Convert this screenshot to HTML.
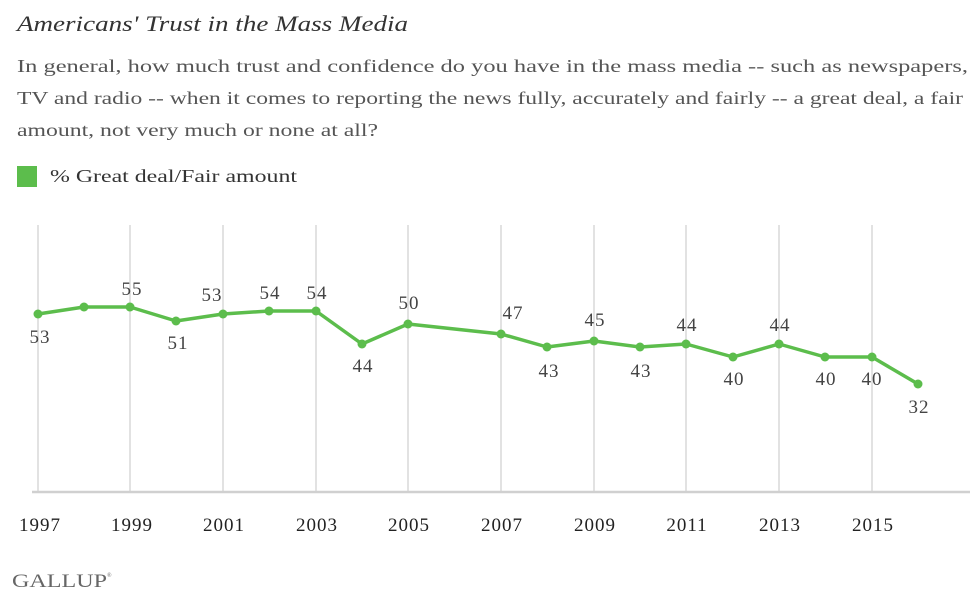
<!DOCTYPE html>
<html><head><meta charset="utf-8"><style>
body{margin:0;background:#fff;width:980px;height:598px;overflow:hidden;font-family:"Liberation Serif",serif;}
</style></head><body>
<svg width="980" height="598" xmlns="http://www.w3.org/2000/svg" font-family="Liberation Serif, serif">
<text x="17" y="31" font-size="22" font-style="italic" fill="#333" textLength="391" lengthAdjust="spacingAndGlyphs">Americans' Trust in the Mass Media</text>
<g font-size="18" fill="#555">
<text x="17" y="72" textLength="951" lengthAdjust="spacingAndGlyphs">In general, how much trust and confidence do you have in the mass media -- such as newspapers,</text>
<text x="17" y="104" textLength="946" lengthAdjust="spacingAndGlyphs">TV and radio -- when it comes to reporting the news fully, accurately and fairly -- a great deal, a fair</text>
<text x="17" y="136" textLength="361" lengthAdjust="spacingAndGlyphs">amount, not very much or none at all?</text>
</g>
<rect x="17" y="166" width="20" height="21" fill="#5cbd4c"/>
<text x="50" y="182" font-size="18" fill="#333" textLength="247" lengthAdjust="spacingAndGlyphs">% Great deal/Fair amount</text>
<g stroke="#d8d8d8" stroke-width="1.5">
<line x1="38" y1="225" x2="38" y2="492"/><line x1="130" y1="225" x2="130" y2="492"/><line x1="223" y1="225" x2="223" y2="492"/><line x1="316" y1="225" x2="316" y2="492"/><line x1="408" y1="225" x2="408" y2="492"/><line x1="501" y1="225" x2="501" y2="492"/><line x1="594" y1="225" x2="594" y2="492"/><line x1="686" y1="225" x2="686" y2="492"/><line x1="779" y1="225" x2="779" y2="492"/><line x1="872" y1="225" x2="872" y2="492"/>
</g>
<line x1="32" y1="492" x2="970" y2="492" stroke="#d0d0d0" stroke-width="2.5"/>
<polyline fill="none" stroke="#5cbd4c" stroke-width="3.5" stroke-linejoin="round" points="38,314 84,307 130,307 176,321 223,314 269,311 316,311 362,344 408,324 501,334 547,347 594,341 640,347 686,344 733,357 779,344 825,357 872,357 918,384"/>
<g fill="#5cbd4c">
<circle cx="38" cy="314" r="4.5"/><circle cx="84" cy="307" r="4.5"/><circle cx="130" cy="307" r="4.5"/><circle cx="176" cy="321" r="4.5"/><circle cx="223" cy="314" r="4.5"/><circle cx="269" cy="311" r="4.5"/><circle cx="316" cy="311" r="4.5"/><circle cx="362" cy="344" r="4.5"/><circle cx="408" cy="324" r="4.5"/><circle cx="501" cy="334" r="4.5"/><circle cx="547" cy="347" r="4.5"/><circle cx="594" cy="341" r="4.5"/><circle cx="640" cy="347" r="4.5"/><circle cx="686" cy="344" r="4.5"/><circle cx="733" cy="357" r="4.5"/><circle cx="779" cy="344" r="4.5"/><circle cx="825" cy="357" r="4.5"/><circle cx="872" cy="357" r="4.5"/><circle cx="918" cy="384" r="4.5"/>
</g>
<g font-size="19" fill="#444" text-anchor="middle" letter-spacing="1">
<text x="40" y="343">53</text><text x="132" y="295">55</text><text x="178" y="349">51</text><text x="212" y="301">53</text><text x="270" y="299">54</text><text x="317" y="299">54</text><text x="363" y="372">44</text><text x="409" y="309">50</text><text x="513" y="319">47</text><text x="549" y="377">43</text><text x="595" y="326">45</text><text x="641" y="377">43</text><text x="687" y="331">44</text><text x="734" y="385">40</text><text x="780" y="331">44</text><text x="826" y="385">40</text><text x="872" y="385">40</text><text x="919" y="413">32</text>
</g>
<g font-size="19" fill="#222" text-anchor="middle" letter-spacing="1">
<text x="40" y="531">1997</text><text x="132" y="531">1999</text><text x="224" y="531">2001</text><text x="317" y="531">2003</text><text x="409" y="531">2005</text><text x="502" y="531">2007</text><text x="595" y="531">2009</text><text x="687" y="531">2011</text><text x="780" y="531">2013</text><text x="873" y="531">2015</text>
</g>
<text x="12" y="587" font-size="19" fill="#666" textLength="95" lengthAdjust="spacingAndGlyphs">GALLUP</text>
<text x="107" y="577" font-size="6" fill="#666">®</text>
</svg>
</body></html>
